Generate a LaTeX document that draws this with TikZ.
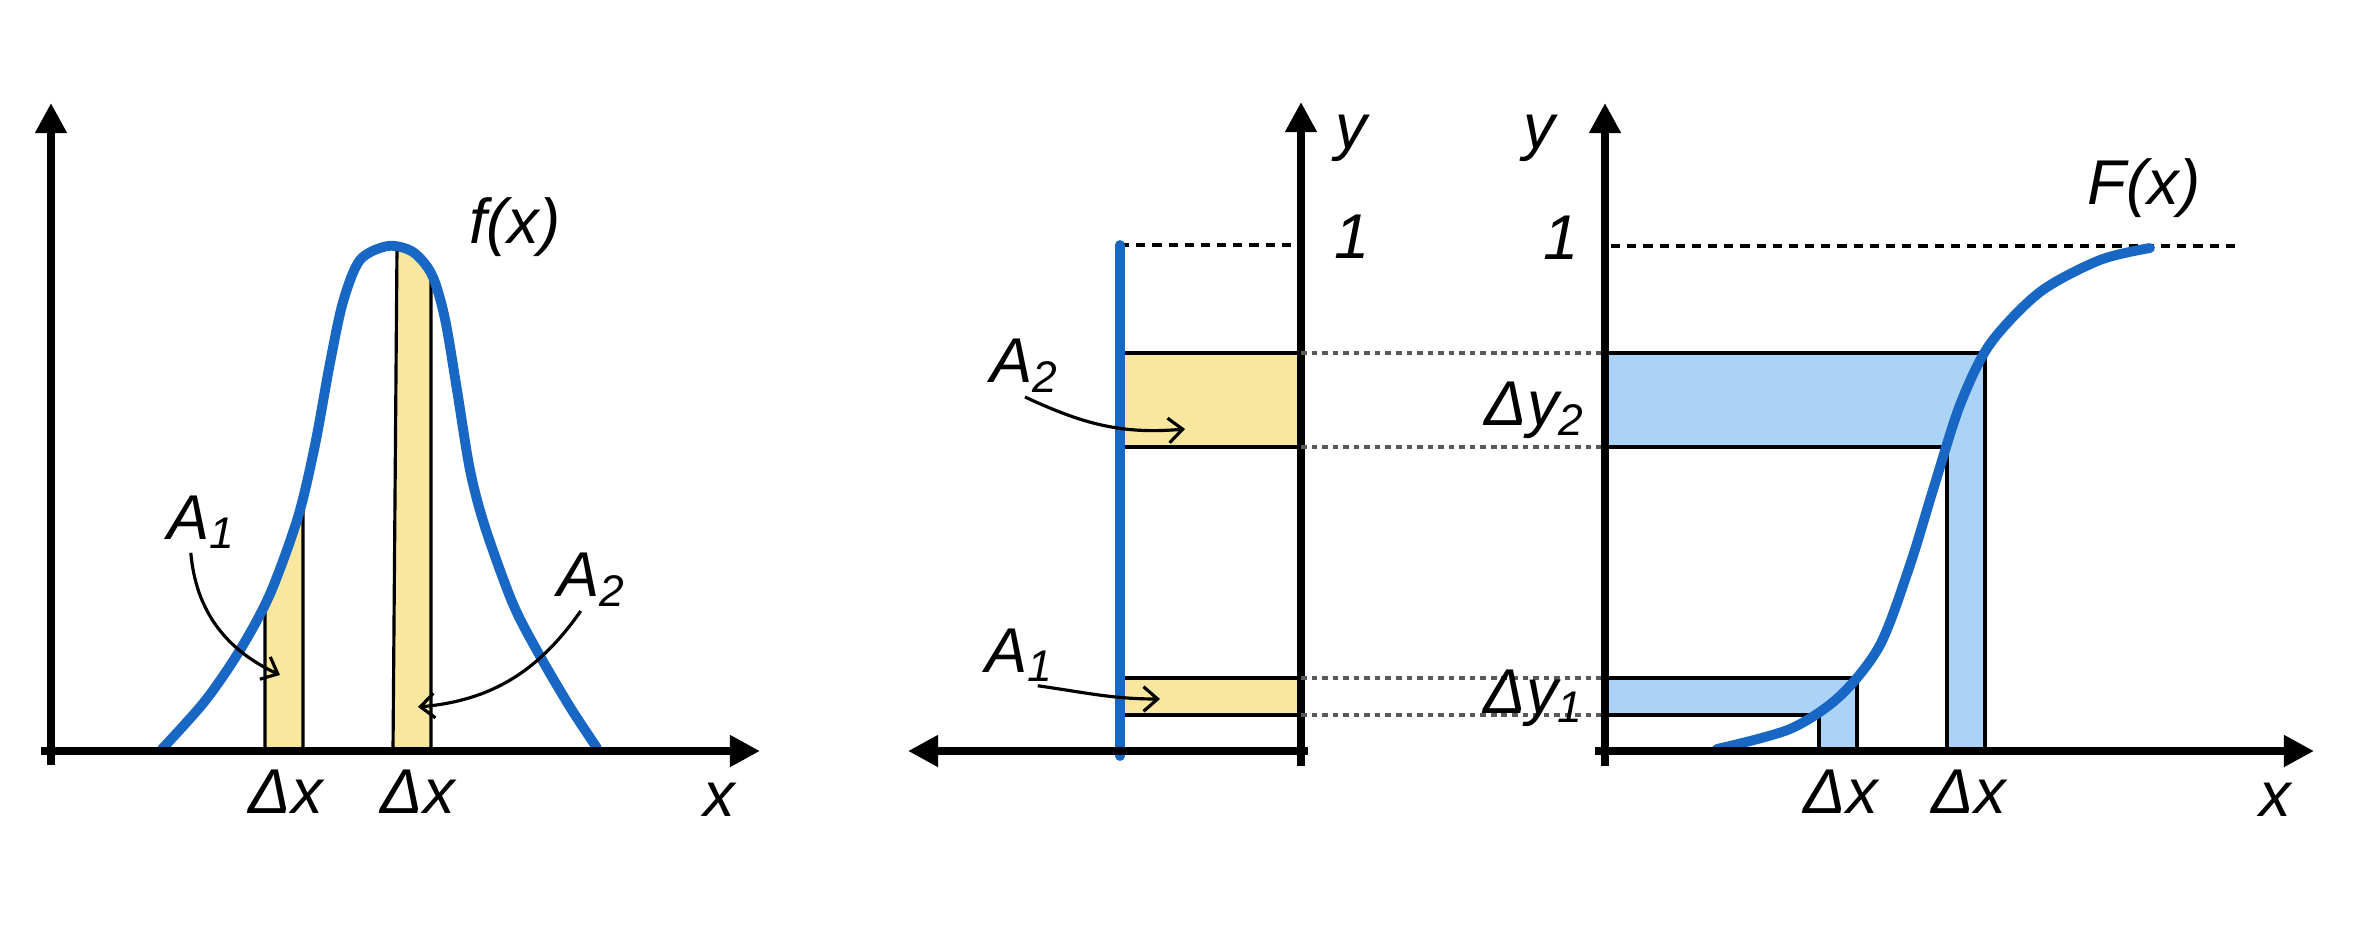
\documentclass[tikz,border=0pt]{standalone}
\usepackage{fontspec}
\setmainfont{Liberation Sans}
\usetikzlibrary{arrows.meta}
\definecolor{curveblue}{RGB}{24,103,196}
\definecolor{baryellow}{RGB}{249,231,159}
\definecolor{bandblue}{RGB}{170,211,247}
\tikzset{
  axis/.style={line width=2.1pt, -{Triangle[length=0.3cm,width=0.3cm]}},
  crayon/.style={curveblue, line width=2.8pt, line cap=round, line join=round},
  barline/.style={line width=0.9pt},
  lbl/.style={font=\fontsize{18}{21}\selectfont\itshape, inner sep=1pt},
  guide/.style={black!65, line width=0.9pt, dash pattern=on 1.6pt off 1.4pt},
  level/.style={line width=1.4pt, dash pattern=on 2.6pt off 2pt},
  callout/.style={line width=0.9pt, -{Straight Barb[length=4pt,width=7pt]}}
}
\newcommand\bellcurve{plot[smooth] coordinates {(162,183) (205,231) (240,282) (270,338)
  (298,415) (315,487) (330,569) (343,630) (360,672) (388,686) (413,680) (432,657)
  (445,613) (457,542) (470,462) (485,405) (513,328) (540,276) (570,225) (597,184)}}
\newcommand\scurve{plot[smooth] coordinates {(1717,183) (1790,203) (1840,236) (1880,287)
  (1910,367) (1933,442) (1960,527) (1990,588) (2040,640) (2100,672) (2150,684)}}
\begin{document}
\begin{tikzpicture}[x=0.01cm,y=0.01cm]
  \useasboundingbox (0,0) rectangle (2356,932);

  \begin{scope}
    \clip \bellcurve -- cycle;
    \fill[baryellow] (265,181) rectangle (303,700);
    \fill[baryellow] (393,181) -- (398,700) -- (431,700) -- (431,181) -- cycle;
  \end{scope}
  \draw[barline] (265,181) -- (265,327) (303,181) -- (303,435)
    (393,181) -- (397,684) (431,181) -- (431,658);
  \draw[crayon] \bellcurve;
  \draw[axis] (51,167) -- (51,829);
  \draw[axis] (41,181) -- (760,181);
  \node[lbl] (fx) at (515,705) {f(x)};
  \node[lbl] (pa1) at (202,410) {A\textsubscript{1}};
  \node[lbl] (pa2) at (592,352) {A\textsubscript{2}};
  \node[lbl] (pdx1) at (286,140) {Δx};
  \node[lbl] (pdx2) at (418,140) {Δx};
  \node[lbl] (px) at (719,132) {x};
  \coordinate (pt1) at (280,257);
  \coordinate (pt2) at (418,225);
  \draw[callout] (pa1.250) to[out=-85,in=155] (pt1);
  \draw[callout] (pa2.250) to[out=-125,in=5] (pt2);

  \fill[baryellow] (1120,485) rectangle (1301,579) (1120,217) rectangle (1301,254);
  \draw[barline] (1120,485) -- (1301,485) (1120,579) -- (1301,579)
    (1120,217) -- (1301,217) (1120,254) -- (1301,254);
  \draw[level] (1120,687) -- (1301,687);
  \draw[crayon] (1120,176) -- (1120,687);
  \draw[axis] (1301,166) -- (1301,830);
  \draw[axis] (1308,181) -- (908,181);
  \node[lbl] (my) at (1351,794) {y};
  \node[lbl] (mone) at (1352,695) {1};
  \node[lbl] (ma2) at (1025,566) {A\textsubscript{2}};
  \node[lbl] (ma1) at (1020,277) {A\textsubscript{1}};
  \coordinate (mt2) at (1185,503);
  \coordinate (mt1) at (1160,233);
  \draw[callout] (ma2.south) to[out=-25,in=185] (mt2);
  \draw[callout] (ma1.300) to[out=-8,in=180] (mt1);

  \foreach \h in {217,254,485,579}
    \draw[guide] (1301,\h) -- (1605,\h);

  \draw[barline, fill=bandblue] (1605,579) -- (1985,579) -- (1985,181) -- (1947,181)
    -- (1947,485) -- (1605,485) -- cycle;
  \draw[barline, fill=bandblue] (1605,254) -- (1857,254) -- (1857,181) -- (1819,181)
    -- (1819,217) -- (1605,217) -- cycle;
  \draw[level] (1611,686) -- (2241,686);
  \draw[crayon] \scurve;
  \draw[axis] (1605,166) -- (1605,829);
  \draw[axis] (1595,181) -- (2314,181);
  \node[lbl] (ry) at (1539,794) {y};
  \node[lbl] (rone) at (1561,694) {1};
  \node[lbl] (fcap) at (2144,744) {F(x)};
  \node[lbl] (rdy2) at (1535,522) {Δy\textsubscript{2}};
  \node[lbl] (rdy1) at (1534,234) {Δy\textsubscript{1}};
  \node[lbl] (rdx1) at (1841,140) {Δx};
  \node[lbl] (rdx2) at (1969,140) {Δx};
  \node[lbl] (rx) at (2275,132) {x};
\end{tikzpicture}
\end{document}
